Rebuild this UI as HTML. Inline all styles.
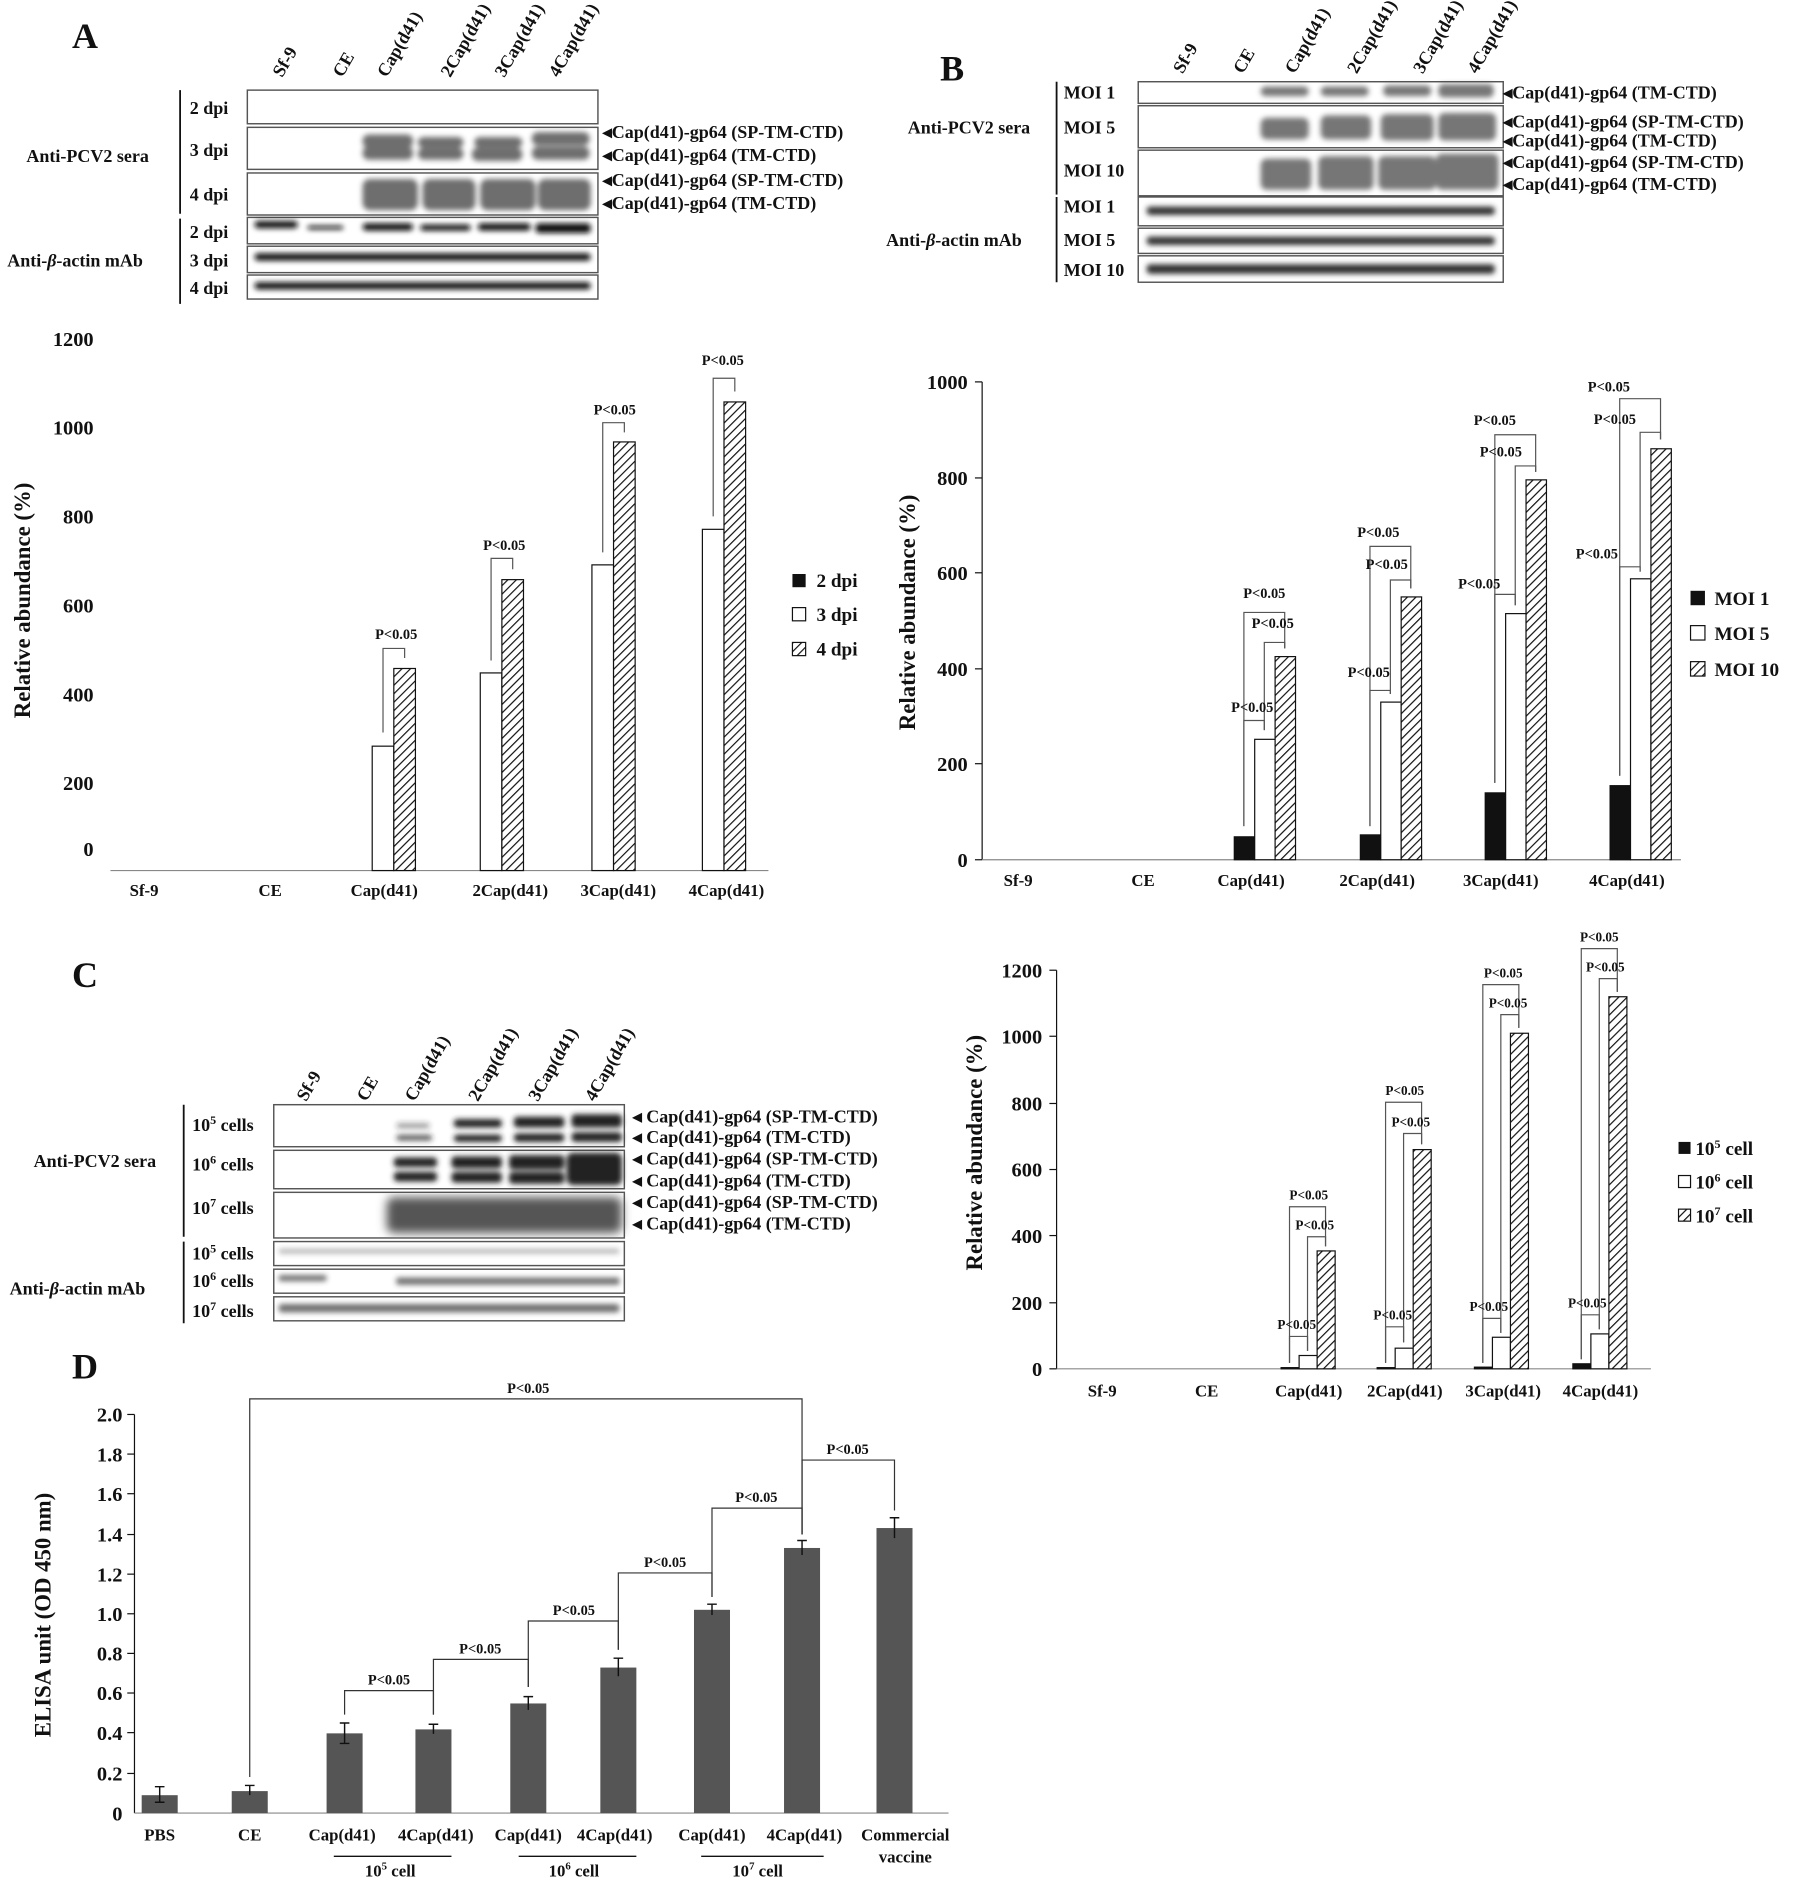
<!DOCTYPE html>
<html><head><meta charset="utf-8"><style>
html,body{margin:0;padding:0;background:#fff}
svg{display:block}
text{font-family:"Liberation Serif",serif;font-weight:bold;fill:#111}
</style></head><body>
<svg width="1801" height="1890" viewBox="0 0 1500 1574" xmlns="http://www.w3.org/2000/svg">
<defs>
<pattern id="h" patternUnits="userSpaceOnUse" width="5" height="5" patternTransform="rotate(45)"><rect width="5" height="5" fill="#fff"/><line x1="0" y1="0" x2="0" y2="5" stroke="#111" stroke-width="2"/></pattern>
<filter id="bl"><feGaussianBlur stdDeviation="2.2"/></filter>
<filter id="bl2"><feGaussianBlur stdDeviation="4"/></filter>
</defs>

<!-- ===== Panel A blot ===== -->
<text x="60" y="40" font-size="30">A</text>
<g font-size="15">
<text transform="translate(235,65) rotate(-60)">Sf-9</text>
<text transform="translate(285,65) rotate(-60)">CE</text>
<text transform="translate(322,65) rotate(-60)">Cap(d41)</text>
<text transform="translate(375,65) rotate(-60)">2Cap(d41)</text>
<text transform="translate(420,65) rotate(-60)">3Cap(d41)</text>
<text transform="translate(465,65) rotate(-60)">4Cap(d41)</text>
</g>
<g fill="none" stroke="#555" stroke-width="1.2">
<rect x="206" y="75" width="292" height="28"/>
<rect x="206" y="106" width="292" height="35"/>
<rect x="206" y="144" width="292" height="35"/>
<rect x="206" y="181" width="292" height="22"/>
<rect x="206" y="205" width="292" height="22"/>
<rect x="206" y="229" width="292" height="20"/>
</g>
<g fill="#555" filter="url(#bl)" opacity="0.85">
<rect x="302" y="112" width="42" height="11" rx="5"/><rect x="302" y="122" width="42" height="11" rx="5"/>
<rect x="348" y="114" width="38" height="9" rx="5"/><rect x="348" y="123" width="38" height="10" rx="5"/>
<rect x="395" y="114" width="40" height="9" rx="5"/><rect x="393" y="123" width="42" height="11" rx="5"/>
<rect x="443" y="110" width="48" height="11" rx="5"/><rect x="443" y="122" width="48" height="11" rx="5"/>
<rect x="302" y="149" width="46" height="26" rx="6"/><rect x="352" y="149" width="44" height="26" rx="6"/>
<rect x="400" y="149" width="46" height="26" rx="6"/><rect x="448" y="149" width="44" height="26" rx="6"/>
</g>
<g fill="#111" filter="url(#bl)">
<rect x="212" y="184" width="36" height="6" rx="3"/><rect x="256" y="188" width="30" height="3" rx="2"/>
<rect x="302" y="186" width="42" height="6" rx="3"/><rect x="350" y="187" width="42" height="5" rx="3"/>
<rect x="398" y="186" width="44" height="6" rx="3"/><rect x="446" y="186" width="46" height="8" rx="3"/>
<rect x="212" y="211" width="280" height="6" rx="3"/>
<rect x="212" y="235" width="280" height="6" rx="3"/>
</g>
<line x1="150" y1="75" x2="150" y2="178" stroke="#111" stroke-width="1.5"/>
<line x1="150" y1="182" x2="150" y2="253" stroke="#111" stroke-width="1.5"/>
<g font-size="15">
<text x="158" y="95">2 dpi</text><text x="158" y="130">3 dpi</text><text x="158" y="167">4 dpi</text>
<text x="158" y="198">2 dpi</text><text x="158" y="222">3 dpi</text><text x="158" y="245">4 dpi</text>
<text x="22" y="135">Anti-PCV2 sera</text>
<text x="6" y="222">Anti-<tspan font-style="italic">β</tspan>-actin mAb</text>
</g>
<g font-size="15">
<text x="502" y="115">◂Cap(d41)-gp64 (SP-TM-CTD)</text>
<text x="502" y="134">◂Cap(d41)-gp64 (TM-CTD)</text>
<text x="502" y="155">◂Cap(d41)-gp64 (SP-TM-CTD)</text>
<text x="502" y="174">◂Cap(d41)-gp64 (TM-CTD)</text>
</g>

<!-- ===== Panel A chart ===== -->
<g font-size="17">
<text x="78" y="288" text-anchor="end">1200</text>
<text x="78" y="362" text-anchor="end">1000</text>
<text x="78" y="436" text-anchor="end">800</text>
<text x="78" y="510" text-anchor="end">600</text>
<text x="78" y="584" text-anchor="end">400</text>
<text x="78" y="658" text-anchor="end">200</text>
<text x="78" y="713" text-anchor="end">0</text>
</g>
<text transform="translate(25,500) rotate(-90)" font-size="19" text-anchor="middle">Relative abundance (%)</text>
<line x1="92" y1="725" x2="640" y2="725" stroke="#888" stroke-width="1"/>
<g font-size="14" text-anchor="middle">
<text x="120" y="746">Sf-9</text><text x="225" y="746">CE</text><text x="320" y="746">Cap(d41)</text>
<text x="425" y="746">2Cap(d41)</text><text x="515" y="746">3Cap(d41)</text><text x="605" y="746">4Cap(d41)</text>
</g>
<g stroke="#111" stroke-width="1">
<rect x="310" y="621.4" width="18" height="103.6" fill="#fff"/><rect x="328" y="556.7" width="18" height="168.3" fill="url(#h)"/>
<rect x="400" y="560.4" width="18" height="164.6" fill="#fff"/><rect x="418" y="482.7" width="18" height="242.3" fill="url(#h)"/>
<rect x="493" y="470.4" width="18" height="254.6" fill="#fff"/><rect x="511" y="368" width="18" height="357" fill="url(#h)"/>
<rect x="585" y="440.8" width="18" height="284.2" fill="#fff"/><rect x="603" y="334.7" width="18" height="390.3" fill="url(#h)"/>
</g>
<g fill="none" stroke="#555" stroke-width="1">
<polyline points="319,610 319,540 337,540 337,548"/>
<polyline points="409,550 409,465 427,465 427,474"/>
<polyline points="502,460 502,352 520,352 520,360"/>
<polyline points="594,430 594,315 612,315 612,326"/>
</g>
<g font-size="12" font-family="Liberation Serif" text-anchor="middle" font-weight="normal">
<text x="330" y="532" font-weight="normal">P&lt;0.05</text>
<text x="420" y="458" font-weight="normal">P&lt;0.05</text>
<text x="512" y="345" font-weight="normal">P&lt;0.05</text>
<text x="602" y="304" font-weight="normal">P&lt;0.05</text>
</g>
<g font-size="16">
<rect x="660" y="478" width="11" height="11" fill="#111"/><text x="680" y="489">2 dpi</text>
<rect x="660" y="506" width="11" height="11" fill="#fff" stroke="#111"/><text x="680" y="517">3 dpi</text>
<rect x="660" y="535" width="11" height="11" fill="url(#h)" stroke="#111"/><text x="680" y="546">4 dpi</text>
</g>

<!-- ===== Panel B blot ===== -->
<text x="783" y="67" font-size="30">B</text>
<g font-size="15">
<text transform="translate(985,62) rotate(-60)">Sf-9</text>
<text transform="translate(1035,62) rotate(-60)">CE</text>
<text transform="translate(1078,62) rotate(-60)">Cap(d41)</text>
<text transform="translate(1130,62) rotate(-60)">2Cap(d41)</text>
<text transform="translate(1185,62) rotate(-60)">3Cap(d41)</text>
<text transform="translate(1230,62) rotate(-60)">4Cap(d41)</text>
</g>
<g fill="none" stroke="#555" stroke-width="1.2">
<rect x="948" y="68" width="304" height="18"/>
<rect x="948" y="88" width="304" height="35"/>
<rect x="948" y="125" width="304" height="38"/>
<rect x="948" y="164" width="304" height="24"/>
<rect x="948" y="190" width="304" height="21"/>
<rect x="948" y="213" width="304" height="22"/>
</g>
<g fill="#555" filter="url(#bl)" opacity="0.8">
<rect x="1050" y="72" width="40" height="8" rx="4"/><rect x="1100" y="72" width="40" height="8" rx="4"/><rect x="1152" y="71" width="40" height="9" rx="4"/><rect x="1198" y="70" width="46" height="11" rx="4"/>
<rect x="1050" y="98" width="40" height="18" rx="5"/><rect x="1100" y="96" width="42" height="20" rx="5"/><rect x="1150" y="95" width="44" height="22" rx="5"/><rect x="1198" y="94" width="48" height="23" rx="5"/>
<rect x="1050" y="132" width="42" height="26" rx="5"/><rect x="1098" y="130" width="46" height="28" rx="5"/><rect x="1148" y="130" width="48" height="28" rx="5"/><rect x="1196" y="128" width="52" height="30" rx="5"/>
</g>
<g fill="#333" filter="url(#bl)">
<rect x="955" y="172" width="290" height="7" rx="3"/>
<rect x="955" y="197" width="290" height="7" rx="3"/>
<rect x="955" y="220" width="290" height="8" rx="3"/>
</g>
<line x1="880" y1="68" x2="880" y2="162" stroke="#111" stroke-width="1.5"/>
<line x1="880" y1="164" x2="880" y2="235" stroke="#111" stroke-width="1.5"/>
<g font-size="15">
<text x="886" y="82">MOI 1</text><text x="886" y="111">MOI 5</text><text x="886" y="147">MOI 10</text>
<text x="886" y="177">MOI 1</text><text x="886" y="205">MOI 5</text><text x="886" y="230">MOI 10</text>
<text x="756" y="111">Anti-PCV2 sera</text>
<text x="738" y="205">Anti-<tspan font-style="italic">β</tspan>-actin mAb</text>
<text x="1252" y="82">◂Cap(d41)-gp64 (TM-CTD)</text>
<text x="1252" y="106">◂Cap(d41)-gp64 (SP-TM-CTD)</text>
<text x="1252" y="122">◂Cap(d41)-gp64 (TM-CTD)</text>
<text x="1252" y="140">◂Cap(d41)-gp64 (SP-TM-CTD)</text>
<text x="1252" y="158">◂Cap(d41)-gp64 (TM-CTD)</text>
</g>

<!-- ===== Panel B chart ===== -->
<line x1="818" y1="318" x2="818" y2="716" stroke="#111"/>
<g stroke="#111"><line x1="812" y1="318" x2="818" y2="318"/><line x1="812" y1="398" x2="818" y2="398"/><line x1="812" y1="477" x2="818" y2="477"/><line x1="812" y1="557" x2="818" y2="557"/><line x1="812" y1="636" x2="818" y2="636"/><line x1="812" y1="716" x2="818" y2="716"/></g>
<line x1="818" y1="716" x2="1400" y2="716" stroke="#888"/>
<g font-size="17" text-anchor="end">
<text x="806" y="324">1000</text><text x="806" y="404">800</text><text x="806" y="483">600</text>
<text x="806" y="563">400</text><text x="806" y="642">200</text><text x="806" y="722">0</text>
</g>
<text transform="translate(762,510) rotate(-90)" font-size="19" text-anchor="middle">Relative abundance (%)</text>
<g font-size="14" text-anchor="middle">
<text x="848" y="738">Sf-9</text><text x="952" y="738">CE</text><text x="1042" y="738">Cap(d41)</text>
<text x="1147" y="738">2Cap(d41)</text><text x="1250" y="738">3Cap(d41)</text><text x="1355" y="738">4Cap(d41)</text>
</g>
<g stroke="#111" stroke-width="1">
<rect x="1028" y="696.9" width="17" height="19.1" fill="#111"/><rect x="1045" y="615.7" width="17" height="100.3" fill="#fff"/><rect x="1062" y="546.8" width="17" height="169.2" fill="url(#h)"/>
<rect x="1133" y="695.3" width="17" height="20.7" fill="#111"/><rect x="1150" y="584.7" width="17" height="131.3" fill="#fff"/><rect x="1167" y="497.1" width="17" height="218.9" fill="url(#h)"/>
<rect x="1237" y="660.3" width="17" height="55.7" fill="#111"/><rect x="1254" y="511" width="17" height="205" fill="#fff"/><rect x="1271" y="399.6" width="17" height="316.4" fill="url(#h)"/>
<rect x="1341" y="654.3" width="17" height="61.7" fill="#111"/><rect x="1358" y="482" width="17" height="234" fill="#fff"/><rect x="1375" y="373.7" width="17" height="342.3" fill="url(#h)"/>
</g>
<g fill="none" stroke="#555" stroke-width="1">
<polyline points="1036,688 1036,600 1053,600 1053,608"/><polyline points="1053,608 1053,535 1070,535 1070,540"/><polyline points="1036,688 1036,510 1070,510 1070,540"/>
<polyline points="1141,688 1141,575 1158,575 1158,578"/><polyline points="1158,578 1158,483 1175,483 1175,490"/><polyline points="1141,688 1141,455 1175,455 1175,490"/>
<polyline points="1245,652 1245,495 1262,495 1262,504"/><polyline points="1262,504 1262,388 1279,388 1279,393"/><polyline points="1245,652 1245,362 1279,362 1279,393"/>
<polyline points="1349,646 1349,472 1366,472 1366,476"/><polyline points="1366,476 1366,360 1383,360 1383,366"/><polyline points="1349,646 1349,332 1383,332 1383,366"/>
</g>
<g font-size="12" text-anchor="middle">
<text x="1043" y="593" font-weight="normal">P&lt;0.05</text><text x="1060" y="523" font-weight="normal">P&lt;0.05</text><text x="1053" y="498" font-weight="normal">P&lt;0.05</text>
<text x="1140" y="564" font-weight="normal">P&lt;0.05</text><text x="1155" y="474" font-weight="normal">P&lt;0.05</text><text x="1148" y="447" font-weight="normal">P&lt;0.05</text>
<text x="1232" y="490" font-weight="normal">P&lt;0.05</text><text x="1250" y="380" font-weight="normal">P&lt;0.05</text><text x="1245" y="354" font-weight="normal">P&lt;0.05</text>
<text x="1330" y="465" font-weight="normal">P&lt;0.05</text><text x="1345" y="353" font-weight="normal">P&lt;0.05</text><text x="1340" y="326" font-weight="normal">P&lt;0.05</text>
</g>
<g font-size="16">
<rect x="1408" y="492" width="12" height="12" fill="#111"/><text x="1428" y="504">MOI 1</text>
<rect x="1408" y="521" width="12" height="12" fill="#fff" stroke="#111"/><text x="1428" y="533">MOI 5</text>
<rect x="1408" y="551" width="12" height="12" fill="url(#h)" stroke="#111"/><text x="1428" y="563">MOI 10</text>
</g>

<!-- ===== Panel C blot ===== -->
<text x="60" y="822" font-size="30">C</text>
<g font-size="15">
<text transform="translate(255,918) rotate(-60)">Sf-9</text>
<text transform="translate(305,918) rotate(-60)">CE</text>
<text transform="translate(345,918) rotate(-60)">Cap(d41)</text>
<text transform="translate(398,918) rotate(-60)">2Cap(d41)</text>
<text transform="translate(448,918) rotate(-60)">3Cap(d41)</text>
<text transform="translate(495,918) rotate(-60)">4Cap(d41)</text>
</g>
<g fill="none" stroke="#555" stroke-width="1.2">
<rect x="228" y="920" width="292" height="35"/>
<rect x="228" y="958" width="292" height="32"/>
<rect x="228" y="993" width="292" height="38"/>
<rect x="228" y="1034" width="292" height="20"/>
<rect x="228" y="1057" width="292" height="20"/>
<rect x="228" y="1080" width="292" height="20"/>
</g>
<g fill="#222" filter="url(#bl)">
<rect x="330" y="935" width="28" height="5" rx="3" opacity=".4"/><rect x="330" y="945" width="30" height="5" rx="3" opacity=".7"/>
<rect x="378" y="932" width="40" height="7" rx="3"/><rect x="378" y="945" width="40" height="6" rx="3"/>
<rect x="428" y="930" width="42" height="9" rx="3"/><rect x="428" y="944" width="42" height="7" rx="3"/>
<rect x="476" y="928" width="42" height="11" rx="3"/><rect x="476" y="943" width="42" height="8" rx="3"/>
<rect x="328" y="964" width="36" height="8" rx="3"/><rect x="328" y="976" width="36" height="8" rx="3"/>
<rect x="376" y="963" width="42" height="10" rx="3"/><rect x="376" y="976" width="42" height="9" rx="3"/>
<rect x="424" y="962" width="46" height="12" rx="3"/><rect x="424" y="976" width="46" height="10" rx="3"/>
<rect x="472" y="960" width="46" height="27" rx="5"/>
</g>
<g fill="#555" filter="url(#bl2)">
<rect x="322" y="997" width="196" height="30" rx="6"/>
</g>
<g fill="#333" filter="url(#bl)" opacity=".7">
<rect x="232" y="1040" width="284" height="4" rx="2" opacity=".5"/>
<rect x="232" y="1062" width="40" height="5" rx="2"/><rect x="330" y="1064" width="186" height="6" rx="2"/>
<rect x="232" y="1086" width="284" height="7" rx="3"/>
</g>
<line x1="153" y1="920" x2="153" y2="1030" stroke="#111" stroke-width="1.5"/>
<line x1="153" y1="1034" x2="153" y2="1102" stroke="#111" stroke-width="1.5"/>
<g font-size="15">
<text x="160" y="942">10<tspan font-size="10" dy="-6">5</tspan><tspan dy="6"> cells</tspan></text>
<text x="160" y="975">10<tspan font-size="10" dy="-6">6</tspan><tspan dy="6"> cells</tspan></text>
<text x="160" y="1011">10<tspan font-size="10" dy="-6">7</tspan><tspan dy="6"> cells</tspan></text>
<text x="160" y="1049">10<tspan font-size="10" dy="-6">5</tspan><tspan dy="6"> cells</tspan></text>
<text x="160" y="1072">10<tspan font-size="10" dy="-6">6</tspan><tspan dy="6"> cells</tspan></text>
<text x="160" y="1097">10<tspan font-size="10" dy="-6">7</tspan><tspan dy="6"> cells</tspan></text>
<text x="28" y="972">Anti-PCV2 sera</text>
<text x="8" y="1078">Anti-<tspan font-style="italic">β</tspan>-actin mAb</text>
<text x="527" y="935">◂ Cap(d41)-gp64 (SP-TM-CTD)</text>
<text x="527" y="952">◂ Cap(d41)-gp64 (TM-CTD)</text>
<text x="527" y="970">◂ Cap(d41)-gp64 (SP-TM-CTD)</text>
<text x="527" y="988">◂ Cap(d41)-gp64 (TM-CTD)</text>
<text x="527" y="1006">◂ Cap(d41)-gp64 (SP-TM-CTD)</text>
<text x="527" y="1024">◂ Cap(d41)-gp64 (TM-CTD)</text>
</g>

<!-- ===== Panel C chart ===== -->
<line x1="880" y1="808" x2="880" y2="1140" stroke="#111"/>
<g stroke="#111"><line x1="874" y1="808" x2="880" y2="808"/><line x1="874" y1="863" x2="880" y2="863"/><line x1="874" y1="919" x2="880" y2="919"/><line x1="874" y1="974" x2="880" y2="974"/><line x1="874" y1="1029" x2="880" y2="1029"/><line x1="874" y1="1085" x2="880" y2="1085"/><line x1="874" y1="1140" x2="880" y2="1140"/></g>
<line x1="880" y1="1140" x2="1375" y2="1140" stroke="#888"/>
<g font-size="17" text-anchor="end">
<text x="868" y="814">1200</text><text x="868" y="869">1000</text><text x="868" y="925">800</text><text x="868" y="980">600</text>
<text x="868" y="1035">400</text><text x="868" y="1091">200</text><text x="868" y="1146">0</text>
</g>
<text transform="translate(818,960) rotate(-90)" font-size="19" text-anchor="middle">Relative abundance (%)</text>
<g font-size="14" text-anchor="middle">
<text x="918" y="1163">Sf-9</text><text x="1005" y="1163">CE</text><text x="1090" y="1163">Cap(d41)</text>
<text x="1170" y="1163">2Cap(d41)</text><text x="1252" y="1163">3Cap(d41)</text><text x="1333" y="1163">4Cap(d41)</text>
</g>
<g stroke="#111" stroke-width="1">
<rect x="1067" y="1139" width="15" height="1" fill="#111"/><rect x="1082" y="1128.9" width="15" height="11.1" fill="#fff"/><rect x="1097" y="1041.8" width="15" height="98.2" fill="url(#h)"/>
<rect x="1147" y="1139" width="15" height="1" fill="#111"/><rect x="1162" y="1122.8" width="15" height="17.2" fill="#fff"/><rect x="1177" y="957.4" width="15" height="182.6" fill="url(#h)"/>
<rect x="1228" y="1138.6" width="15" height="1.4" fill="#111"/><rect x="1243" y="1113.7" width="15" height="26.3" fill="#fff"/><rect x="1258" y="860.5" width="15" height="279.5" fill="url(#h)"/>
<rect x="1310" y="1135.8" width="15" height="4.2" fill="#111"/><rect x="1325" y="1110.9" width="15" height="29.1" fill="#fff"/><rect x="1340" y="830.1" width="15" height="309.9" fill="url(#h)"/>
</g>
<g fill="none" stroke="#555" stroke-width="1">
<polyline points="1074,1135 1074,1113 1089,1113 1089,1125"/><polyline points="1089,1125 1089,1030 1104,1030 1104,1038"/><polyline points="1074,1135 1074,1005 1104,1005 1104,1038"/>
<polyline points="1154,1135 1154,1105 1169,1105 1169,1118"/><polyline points="1169,1118 1169,944 1184,944 1184,953"/><polyline points="1154,1135 1154,918 1184,918 1184,953"/>
<polyline points="1235,1135 1235,1098 1250,1098 1250,1110"/><polyline points="1250,1110 1250,845 1265,845 1265,856"/><polyline points="1235,1135 1235,820 1265,820 1265,856"/>
<polyline points="1317,1132 1317,1095 1332,1095 1332,1107"/><polyline points="1332,1107 1332,815 1347,815 1347,826"/><polyline points="1317,1132 1317,790 1347,790 1347,826"/>
</g>
<g font-size="11" text-anchor="middle">
<text x="1080" y="1107" font-weight="normal">P&lt;0.05</text><text x="1095" y="1024" font-weight="normal">P&lt;0.05</text><text x="1090" y="999" font-weight="normal">P&lt;0.05</text>
<text x="1160" y="1099" font-weight="normal">P&lt;0.05</text><text x="1175" y="938" font-weight="normal">P&lt;0.05</text><text x="1170" y="912" font-weight="normal">P&lt;0.05</text>
<text x="1240" y="1092" font-weight="normal">P&lt;0.05</text><text x="1256" y="839" font-weight="normal">P&lt;0.05</text><text x="1252" y="814" font-weight="normal">P&lt;0.05</text>
<text x="1322" y="1089" font-weight="normal">P&lt;0.05</text><text x="1337" y="809" font-weight="normal">P&lt;0.05</text><text x="1332" y="784" font-weight="normal">P&lt;0.05</text>
</g>
<g font-size="16">
<rect x="1398" y="951" width="10" height="10" fill="#111"/><text x="1412" y="962">10<tspan font-size="10" dy="-6">5</tspan><tspan dy="6"> cell</tspan></text>
<rect x="1398" y="979" width="10" height="10" fill="#fff" stroke="#111"/><text x="1412" y="990">10<tspan font-size="10" dy="-6">6</tspan><tspan dy="6"> cell</tspan></text>
<rect x="1398" y="1007" width="10" height="10" fill="url(#h)" stroke="#111"/><text x="1412" y="1018">10<tspan font-size="10" dy="-6">7</tspan><tspan dy="6"> cell</tspan></text>
</g>

<!-- ===== Panel D ===== -->
<text x="60" y="1148" font-size="30">D</text>
<line x1="112" y1="1178" x2="112" y2="1510" stroke="#111"/>
<line x1="112" y1="1510" x2="790" y2="1510" stroke="#888"/>
<g font-size="17" text-anchor="end">
<text x="102" y="1184">2.0</text><text x="102" y="1217">1.8</text><text x="102" y="1250">1.6</text><text x="102" y="1284">1.4</text>
<text x="102" y="1317">1.2</text><text x="102" y="1350">1.0</text><text x="102" y="1383">0.8</text><text x="102" y="1416">0.6</text>
<text x="102" y="1449">0.4</text><text x="102" y="1483">0.2</text><text x="102" y="1516">0</text>
</g>
<g stroke="#111"><line x1="106" y1="1178" x2="112" y2="1178"/><line x1="106" y1="1211" x2="112" y2="1211"/><line x1="106" y1="1244" x2="112" y2="1244"/><line x1="106" y1="1278" x2="112" y2="1278"/><line x1="106" y1="1311" x2="112" y2="1311"/><line x1="106" y1="1344" x2="112" y2="1344"/><line x1="106" y1="1377" x2="112" y2="1377"/><line x1="106" y1="1410" x2="112" y2="1410"/><line x1="106" y1="1443" x2="112" y2="1443"/><line x1="106" y1="1477" x2="112" y2="1477"/></g>
<text transform="translate(42,1345) rotate(-90)" font-size="19" text-anchor="middle">ELISA unit (OD 450 nm)</text>
<g fill="#555">
<rect x="118" y="1495.1" width="30" height="14.9"/><rect x="193" y="1491.7" width="30" height="18.3"/>
<rect x="272" y="1443.6" width="30" height="66.4"/><rect x="346" y="1440.3" width="30" height="69.7"/>
<rect x="425" y="1418.7" width="30" height="91.3"/><rect x="500" y="1388.8" width="30" height="121.2"/>
<rect x="578" y="1340.7" width="30" height="169.3"/><rect x="653" y="1289.2" width="30" height="220.8"/>
<rect x="730" y="1272.6" width="30" height="237.4"/>
</g>
<g stroke="#111" stroke-width="1.2">
<path d="M133 1488v13M129 1488h8M129 1501h8"/><path d="M208 1487v8M204 1487h8"/>
<path d="M287 1435v17M283 1435h8M283 1452h8"/><path d="M361 1436v8M357 1436h8"/>
<path d="M440 1413v11M436 1413h8"/><path d="M515 1381v15M511 1381h8"/>
<path d="M593 1336v9M589 1336h8"/><path d="M668 1283v12M664 1283h8"/>
<path d="M745 1264v17M741 1264h8"/>
</g>
<g fill="none" stroke="#333" stroke-width="1">
<polyline points="208,1480 208,1165 668,1165 668,1278"/>
<polyline points="287,1428 287,1408 361,1408 361,1428"/>
<polyline points="361,1428 361,1382 440,1382 440,1405"/>
<polyline points="440,1405 440,1350 515,1350 515,1374"/>
<polyline points="515,1374 515,1310 593,1310 593,1330"/>
<polyline points="593,1330 593,1256 668,1256 668,1278"/>
<polyline points="668,1278 668,1216 745,1216 745,1258"/>
</g>
<g font-size="12" text-anchor="middle">
<text x="440" y="1160" font-weight="normal">P&lt;0.05</text>
<text x="324" y="1403" font-weight="normal">P&lt;0.05</text><text x="400" y="1377" font-weight="normal">P&lt;0.05</text>
<text x="478" y="1345" font-weight="normal">P&lt;0.05</text><text x="554" y="1305" font-weight="normal">P&lt;0.05</text>
<text x="630" y="1251" font-weight="normal">P&lt;0.05</text><text x="706" y="1211" font-weight="normal">P&lt;0.05</text>
</g>
<g font-size="14" text-anchor="middle">
<text x="133" y="1533">PBS</text><text x="208" y="1533">CE</text>
<text x="285" y="1533">Cap(d41)</text><text x="363" y="1533">4Cap(d41)</text>
<text x="440" y="1533">Cap(d41)</text><text x="512" y="1533">4Cap(d41)</text>
<text x="593" y="1533">Cap(d41)</text><text x="670" y="1533">4Cap(d41)</text>
<text x="754" y="1533">Commercial</text><text x="754" y="1551">vaccine</text>
<text x="325" y="1563">10<tspan font-size="9" dy="-6">5</tspan><tspan dy="6"> cell</tspan></text>
<text x="478" y="1563">10<tspan font-size="9" dy="-6">6</tspan><tspan dy="6"> cell</tspan></text>
<text x="631" y="1563">10<tspan font-size="9" dy="-6">7</tspan><tspan dy="6"> cell</tspan></text>
</g>
<g stroke="#111" stroke-width="1.2">
<line x1="278" y1="1546" x2="376" y2="1546"/><line x1="432" y1="1546" x2="530" y2="1546"/><line x1="584" y1="1546" x2="686" y2="1546"/>
</g>
</svg>
</body></html>
